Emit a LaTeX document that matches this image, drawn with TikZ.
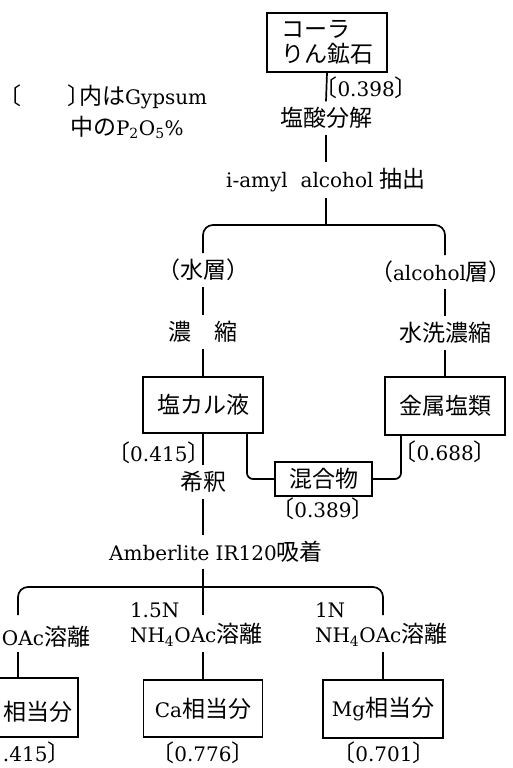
\documentclass[tikz,border=0pt]{standalone}
\usepackage{fontspec}
\setmainfont{DejaVu Serif}
\newfontfamily\jp[Scale=1.15]{Noto Sans CJK JP}
\newfontfamily\jph[Scale=1.15,CharacterWidth=AlternateHalf]{Noto Sans CJK JP}
\newcommand\J[1]{{\jp #1}}
\newcommand\Jhalf[1]{{\jph #1}}
\newcommand\lbk{{\jph 〔}}
\newcommand\rbk{{\jph 〕}}
\begin{document}
\begin{tikzpicture}[x=1pt,y=-1pt,line width=1.7pt,
  every node/.style={font=\fontsize{20}{25}\selectfont},
  box/.style={draw,inner sep=0pt,line width=1.7pt},
  lbl/.style={inner sep=0pt,outer xsep=0pt,outer ysep=6pt},
  val/.style={inner sep=0pt,outer sep=0pt},
  branch/.style={rounded corners=10pt},
  elbow/.style={rounded corners=6pt}]
\useasboundingbox (0,0) rectangle (513,768);
\clip (0,0) rectangle (513,768);
% legend
\node[val,anchor=west] (lg1) at (10,97) {\lbk\J{　　}\rbk\J{内は}Gypsum};
\node[val,anchor=west] (lg2) at (70,127) {\J{中の}P\textsubscript{2}O\textsubscript{5}\%};
% top
\node[box,minimum width=120pt,minimum height=59pt,align=left] (ore) at (327,42.5) {\J{コーラ}\\\J{りん鉱石}};
\node[lbl] (t1) at (326,118) {\J{塩酸分解}};
\node[val,anchor=west] (p398) at (326,88) {\lbk 0.398\rbk};
\node[lbl] (t2) at (326,180) {i-amyl\ \ alcohol \J{抽出}};
\coordinate (br1) at (326,225);
% two layers
\node[lbl] (w1) at (203,270) {\Jhalf{（}\J{水層}\Jhalf{）}};
\node[lbl] (w2) at (203,332) {\J{濃　縮}};
\node[lbl] (a1) at (441,272) {\Jhalf{（}alcohol\J{層}\Jhalf{）}};
\node[lbl] (a2) at (445,333) {\J{水洗濃縮}};
\node[box,minimum width=120pt,minimum height=56pt] (enka) at (203,405) {\J{塩カル液}};
\node[box,minimum width=120pt,minimum height=58pt] (kin) at (445,406) {\J{金属塩類}};
\node[val,anchor=east] (p415) at (199,453) {\lbk 0.415\rbk};
\node[val,anchor=west] (p688) at (405,452) {\lbk 0.688\rbk};
\node[box,minimum width=97pt,minimum height=34pt] (mix) at (323.5,479) {\J{混合物}};
\node[val] (p389) at (323,509) {\lbk 0.389\rbk};
\node[lbl] (kis) at (203,482) {\J{希釈}};
\node[lbl] (amb) at (216,552) {Amberlite IR120\J{吸着}};
\coordinate (br2) at (203,587);
\coordinate (c1) at (18,615);
\coordinate (c2) at (203,615);
\coordinate (c3) at (383,615);
\coordinate (d1) at (18,652);
% elution labels
\node[val,anchor=east] (l1) at (90,637) {OAc\J{溶離}};
\node[lbl,anchor=west,align=left] (l2) at (130,624.5) {1.5N\\NH\textsubscript{4}OAc\J{溶離}};
\node[lbl,anchor=west,align=left] (l3) at (315,624.5) {1N\\NH\textsubscript{4}OAc\J{溶離}};
% bottom boxes
\node[box,minimum width=120pt,minimum height=59pt] (lbox) at (18,707.5) {};
\node[val,anchor=east] (lbt) at (73,712) {\J{相当分}};
\node[box,minimum width=119pt,minimum height=57pt] (cabox) at (203,708.5) {Ca\J{相当分}};
\node[box,minimum width=120pt,minimum height=58pt] (mgbox) at (383,709) {Mg\J{相当分}};
\node[val,anchor=east] (p415b) at (59,753) {.415\rbk};
\node[val] (p776) at (203,753) {\lbk 0.776\rbk};
\node[val] (p701) at (384,753) {\lbk 0.701\rbk};
% connectors
\draw (ore.south) -- (t1.north);
\draw (t1.south) -- (t2.north);
\draw (t2.south) -- (br1);
\draw[branch] (w1.north) |- (br1) -| (kin.north |- a1.north);
\draw (w1.south) -- (w2.north);
\draw (w2.south) -- (enka.north);
\draw (kin.north |- a1.south) -- (a2.north);
\draw (a2.south) -- (kin.north);
\draw (enka.south) -- (kis.north);
\draw (kis.south) -- (kis.south |- amb.north);
\draw[elbow] ([xshift=44pt]enka.south) |- (mix.west);
\draw[elbow] ([xshift=-44pt]kin.south) |- (mix.east);
\draw (kis.south |- amb.south) -- (c2);
\draw[branch] (c1) |- (br2) -| (c3);
\draw (d1) -- (lbox.north);
\draw (cabox.north |- l2.south) -- (cabox.north);
\draw (mgbox.north |- l3.south) -- (mgbox.north);
\end{tikzpicture}
\end{document}
